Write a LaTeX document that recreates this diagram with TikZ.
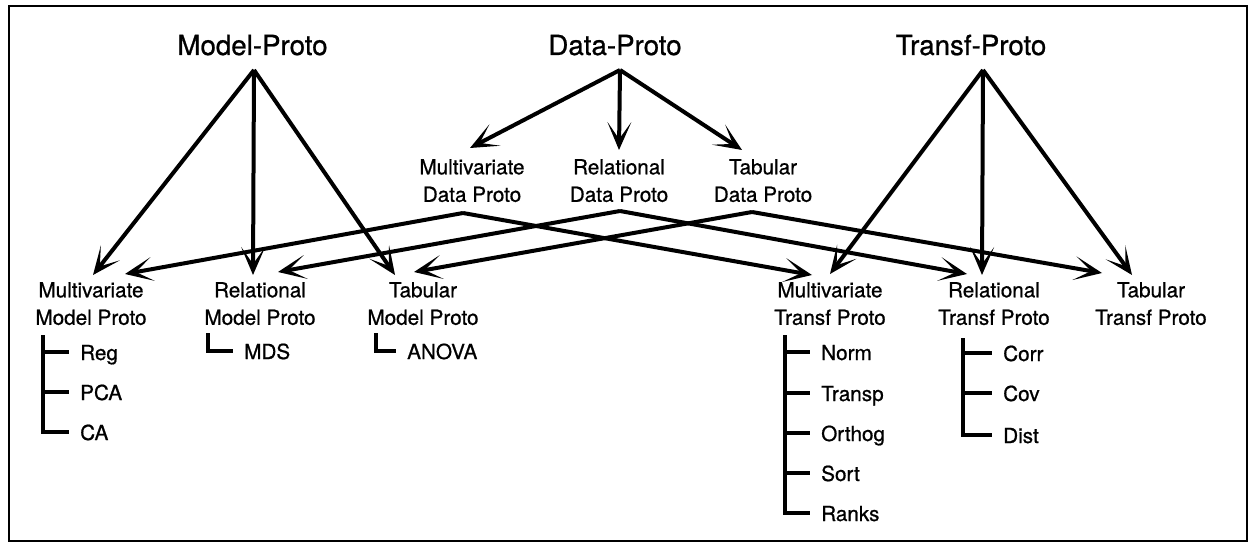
\documentclass[tikz,border=0pt]{standalone}
\usepackage{fontspec}
\setmainfont{TeX Gyre Heros}[FakeBold=0.8]
\usetikzlibrary{arrows.meta,calc}
\begin{document}
\begin{tikzpicture}[x=1pt,y=-1pt,
  title/.style={font=\fontsize{27.7}{33}\selectfont, inner sep=0pt, anchor=base},
  proto/.style={font=\fontsize{20.7}{27.5}\selectfont, align=center, inner sep=0pt, anchor=north},
  leaf/.style={font=\fontsize{20.7}{25}\selectfont, inner sep=0pt, anchor=base west},
  link/.style={line width=4pt, -{Stealth[length=28pt,width=24pt,inset=17pt,line width=2.4pt]}},
  treeline/.style={line width=3.6pt},
  frame/.style={line width=2.6pt}]

\useasboundingbox (0,0) rectangle (1255,543);
\draw[frame] (9,6) rectangle (1247,541);

% top-level prototypes
\node[title] (mp) at (252.5,55) {Model-Proto};
\node[title] (dp) at (615,55) {Data-Proto};
\node[title] (tp) at (971,55) {Transf-Proto};

% data prototypes
\node[proto] (mdp) at (472,159) {Multivariate\\Data Proto};
\node[proto] (rdp) at (619,159) {Relational\\Data Proto};
\node[proto] (tdp) at (763,159) {Tabular\\Data Proto};

% model and transformation prototypes
\node[proto] (mmp) at (91,282) {Multivariate\\Model Proto};
\node[proto] (rmp) at (260,282) {Relational\\Model Proto};
\node[proto] (tmp) at (423,282) {Tabular\\Model Proto};
\node[proto] (mtp) at (830,282) {Multivariate\\Transf Proto};
\node[proto] (rtp) at (994,282) {Relational\\Transf Proto};
\node[proto] (ttp) at (1151,282) {Tabular\\Transf Proto};

% leaves
\node[leaf] (reg) at (80,360) {Reg};
\node[leaf] (pca) at (80,400) {PCA};
\node[leaf] (ca) at (80,440) {CA};
\node[leaf] (mds) at (244,359) {MDS};
\node[leaf] (anova) at (407,359) {ANOVA};
\node[leaf] (norm) at (821,360) {Norm};
\node[leaf] (transp) at (821,401) {Transp};
\node[leaf] (orthog) at (821,441) {Orthog};
\node[leaf] (sort) at (821,481) {Sort};
\node[leaf] (ranks) at (821,521) {Ranks};
\node[leaf] (corr) at (1003,361) {Corr};
\node[leaf] (cov) at (1003,401) {Cov};
\node[leaf] (dist) at (1003,443) {Dist};

% arrow origins
\coordinate (mp-o) at (254,70);
\coordinate (dp-o) at (620,70);
\coordinate (tp-o) at (983,70);
\coordinate (mdp-o) at (463,213);
\coordinate (rdp-o) at (620,211);
\coordinate (tdp-o) at (752,212);

% arrow targets
\coordinate (mdp-a) at (470,148);
\coordinate (rdp-a) at (619,150);
\coordinate (tdp-a) at (742,150);
\coordinate (mmp-a) at (93,275);
\coordinate (mmp-b) at (125,274);
\coordinate (rmp-a) at (253,275);
\coordinate (rmp-b) at (278,272);
\coordinate (tmp-a) at (395,275);
\coordinate (tmp-b) at (414,272);
\coordinate (mtp-a) at (830,274);
\coordinate (mtp-b) at (812,275);
\coordinate (rtp-a) at (982,275);
\coordinate (rtp-b) at (967,274);
\coordinate (ttp-a) at (1132,275);
\coordinate (ttp-b) at (1102,273);

% inheritance arrows
\draw[link] (dp-o) -- (mdp-a);
\draw[link] (dp-o) -- (rdp-a);
\draw[link] (dp-o) -- (tdp-a);
\draw[link] (mp-o) -- (mmp-a);
\draw[link] (mp-o) -- (rmp-a);
\draw[link] (mp-o) -- (tmp-a);
\draw[link] (tp-o) -- (mtp-a);
\draw[link] (tp-o) -- (rtp-a);
\draw[link] (tp-o) -- (ttp-a);
\draw[link] (mdp-o) -- (mmp-b);
\draw[link] (mdp-o) -- (mtp-b);
\draw[link] (rdp-o) -- (rmp-b);
\draw[link] (rdp-o) -- (rtp-b);
\draw[link] (tdp-o) -- (tmp-b);
\draw[link] (tdp-o) -- (ttp-b);

% method trees
\newcommand\branch[2]{\draw[treeline] (#1) |- ($(#2.base west)+(-11,-8)$);}
\coordinate (mmp-t) at (43,335);
\coordinate (rmp-t) at (208,333);
\coordinate (tmp-t) at (376,333);
\coordinate (mtp-t) at (785,335);
\coordinate (rtp-t) at (963,338);
\branch{mmp-t}{reg}
\branch{mmp-t}{pca}
\branch{mmp-t}{ca}
\branch{rmp-t}{mds}
\branch{tmp-t}{anova}
\branch{mtp-t}{norm}
\branch{mtp-t}{transp}
\branch{mtp-t}{orthog}
\branch{mtp-t}{sort}
\branch{mtp-t}{ranks}
\branch{rtp-t}{corr}
\branch{rtp-t}{cov}
\branch{rtp-t}{dist}
\end{tikzpicture}
\end{document}
